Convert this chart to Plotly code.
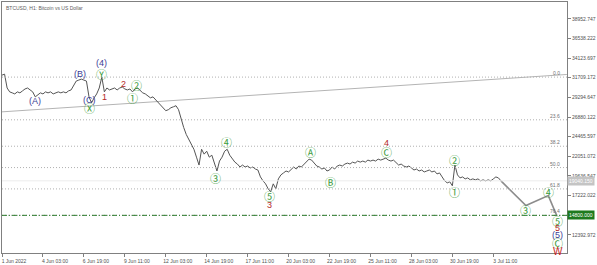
import pandas as pd
import plotly.graph_objects as go

# ---------------- data ----------------
start_time = "2022-06-01 11:00"
close = [
    32030, 32150, 30450, 29970, 29850, 29720, 29970, 29850, 30090, 30330,
    30450, 30210, 29970, 29360, 29600, 29850, 29720, 29970, 29850, 29970,
    29720, 29850, 29970, 29850, 29970, 29850, 30090, 30210, 30820, 31300,
    31420, 31540, 31420, 31300, 29360, 28630, 29240, 29720, 30450, 31790,
    29970, 30450, 30210, 30330, 30450, 30210, 30450, 30570, 30330, 30210,
    30330, 29970, 30330, 30450, 30090, 29850, 29720, 29480, 29240, 29360,
    29000, 28750, 28390, 28020, 27660, 27780, 28020, 28140, 28270, 27780,
    26570, 25600, 24740, 24140, 23410, 22920, 21950, 20980, 22920, 22320,
    22680, 21950, 22190, 21220, 20250, 21470, 21950, 22680, 22920, 22190,
    21710, 21340, 21100, 20740, 20980, 20740, 20860, 20620, 20740, 20490,
    20370, 19520, 19040, 18670, 18070, 17700, 18670, 18070, 19280, 19770,
    20010, 20250, 20130, 20490, 20740, 20490, 20860, 20740, 21100, 21340,
    21710, 21590, 21220, 20860, 20740, 20490, 20620, 20250, 20370, 20740,
    20490, 20860, 20980, 20860, 21100, 21220, 21100, 21340, 21220, 21470,
    21340, 21470, 21340, 21590, 21470, 21590, 21470, 21710, 21590, 21710,
    21830, 21590, 21470, 21590, 21220, 20980, 21100, 20860, 20740, 20860,
    20620, 20370, 20490, 20250, 20370, 20130, 20250, 20370, 20130, 20250,
    19890, 20010, 19520, 19040, 18790, 18920, 18430, 20980, 19770, 19400,
    19520, 19280, 19400, 19160, 19280, 19160, 19280, 19040, 19160, 19040,
    19160, 19040, 19280, 19520, 19400, 19040,
]

proj_time = ["2022-07-05 14:00", "2022-07-07 01:00", "2022-07-07 14:00"]
proj_price = [16000, 17222, 14800]

tick_times = ["2022-06-01 11:00", "2022-06-04 03:00", "2022-06-06 19:00", "2022-06-09 11:00",
              "2022-06-12 03:00", "2022-06-14 19:00", "2022-06-17 11:00", "2022-06-20 03:00",
              "2022-06-22 19:00", "2022-06-25 11:00", "2022-06-28 03:00", "2022-06-30 19:00",
              "2022-07-03 11:00"]
tick_text = ["1 Jun 2022", "4 Jun 03:00", "6 Jun 19:00", "9 Jun 11:00", "12 Jun 03:00",
             "14 Jun 19:00", "17 Jun 11:00", "20 Jun 03:00", "22 Jun 19:00", "25 Jun 11:00",
             "28 Jun 03:00", "30 Jun 19:00", "3 Jul 11:00"]

price_ticks = [12392.972, 14807.497, 17222.022, 19636.547, 22051.072, 24465.597,
               26880.122, 29294.647, 31709.172, 34123.697, 36538.222, 38952.747]
price_tick_text = ["12392.972", "", "17222.022", "19636.547", "22051.072", "24465.597",
                   "26880.122", "29294.647", "31709.172", "34123.697", "36538.222", "38952.747"]

fib_names = ["0.0", "23.6", "38.2", "50.0", "61.8", "76.4"]
fib_prices = [31788, 26540, 23294, 20670, 18046, 14800]

target_price = 14800.0
bid_price = 19040.0

trend_time = ["2022-06-01 09:30", "2022-07-08 06:00"]
trend_price = [27510, 32110]

wave_text = ["(A)", "(B)", "(C)", "Ⓧ", "Ⓨ", "(4)", "1", "2", "②", "①",
             "④", "③", "⑤", "3", "Ⓐ", "Ⓑ", "Ⓒ", "4", "②", "①",
             "③", "④", "⑤", "5", "(5)", "Ⓒ", "W"]
wave_time = ["2022-06-03 14:00", "2022-06-06 12:30", "2022-06-07 03:00", "2022-06-07 03:00",
             "2022-06-07 22:00", "2022-06-07 22:00", "2022-06-08 03:00", "2022-06-09 09:30",
             "2022-06-10 06:00", "2022-06-09 23:45", "2022-06-16 01:30", "2022-06-15 09:30",
             "2022-06-18 20:30", "2022-06-18 20:30", "2022-06-21 12:30", "2022-06-22 20:30",
             "2022-06-26 12:30", "2022-06-26 12:30", "2022-06-30 22:00", "2022-06-30 22:00",
             "2022-07-05 14:00", "2022-07-07 01:30", "2022-07-07 15:45", "2022-07-07 15:45",
             "2022-07-07 15:45", "2022-07-07 15:45", "2022-07-07 15:45"]
wave_price = [28873, 32152, 28995, 28025, 32152, 33488, 29359, 30938, 30816, 29237,
              23772, 19401, 17150, 16050, 22558, 18915, 22620, 23710, 21587, 17701,
              15515, 17701, 14058, 13208, 12357, 11386, 10415]

# ---------------- figure ----------------
times = pd.date_range(start_time, periods=len(close), freq="4h")

GREEN = "#3c9c3c"
NAVY = "#3c3c96"
RED = "#b42828"


def label_style(t):
    if t.startswith("("):
        return NAVY, 9, "Liberation Sans"
    if t == "W":
        return "#c81e1e", 10, "Liberation Sans"
    if t.isascii():
        return RED, 9, "Liberation Sans"
    return GREEN, 11, "Noto Sans CJK JP"


fig = go.Figure()

for name, p in zip(fib_names, fib_prices):
    fig.add_hline(y=p, line=dict(color="#b0b0b0", width=1, dash="1px,2px"))
    fig.add_annotation(x=1, xref="paper", y=p, yref="y", text=name, showarrow=False,
                       xanchor="right", yanchor="bottom", xshift=-5, yshift=-1,
                       font=dict(size=5, color="#707070", family="Liberation Sans"))

fig.add_hline(y=target_price, line=dict(color="#2a7a2a", width=1, dash="5px,2px,1px,2px"))
fig.add_hline(y=bid_price, line=dict(color="#ececec", width=1))

fig.add_trace(go.Scatter(x=trend_time, y=trend_price, mode="lines",
                         line=dict(color="#b4b4b4", width=1), hoverinfo="skip"))

fig.add_trace(go.Scatter(x=times, y=close, mode="lines",
                         line=dict(color="#555555", width=1), hoverinfo="skip"))

fig.add_trace(go.Scatter(x=[times[-1]] + proj_time, y=[close[-1]] + proj_price, mode="lines",
                         line=dict(color="#8c8c8c", width=1.6), hoverinfo="skip"))

for t, tm, p in zip(wave_text, wave_time, wave_price):
    c, s, f = label_style(t)
    fig.add_annotation(x=tm, y=p, text=t, showarrow=False,
                       font=dict(size=s, color=c, family=f))

fig.add_annotation(x=1, xref="paper", y=target_price, yref="y", text="14800.000",
                   showarrow=False, xanchor="left", bgcolor="#1e7a1e",
                   font=dict(size=5, color="white", family="Liberation Sans"), borderpad=1)
fig.add_annotation(x=1, xref="paper", y=bid_price, yref="y", text="19040.150",
                   showarrow=False, xanchor="left", bgcolor="#c4c4c4",
                   font=dict(size=5, color="white", family="Liberation Sans"), borderpad=1)

fig.add_annotation(x=0, xref="paper", y=1, yref="paper", text="BTCUSD, H1: Bitcoin vs US Dollar",
                   showarrow=False, xanchor="left", yanchor="top", xshift=2, yshift=-1,
                   font=dict(size=5, color="#606060", family="Liberation Sans"))

fig.update_layout(
    width=597, height=265,
    margin=dict(l=1, r=29, t=1, b=10),
    paper_bgcolor="white", plot_bgcolor="white",
    showlegend=False,
    xaxis=dict(type="date", range=["2022-06-01 11:00", "2022-07-08 06:12"],
               tickvals=tick_times, ticktext=tick_text, ticks="outside", ticklen=3,
               tickcolor="#808080", showgrid=False, zeroline=False,
               showline=True, linecolor="#808080", mirror=True,
               ticklabelshift=12, ticklabelstandoff=0,
               tickfont=dict(size=5, color="#505050", family="Liberation Sans")),
    yaxis=dict(side="right", range=[10171, 41017], tickvals=price_ticks,
               ticktext=price_tick_text, ticks="outside", ticklen=3,
               tickcolor="#808080", showgrid=False, zeroline=False,
               showline=True, linecolor="#808080", mirror=True,
               tickfont=dict(size=5, color="#505050", family="Liberation Sans")),
)

fig.write_html("out.html")
